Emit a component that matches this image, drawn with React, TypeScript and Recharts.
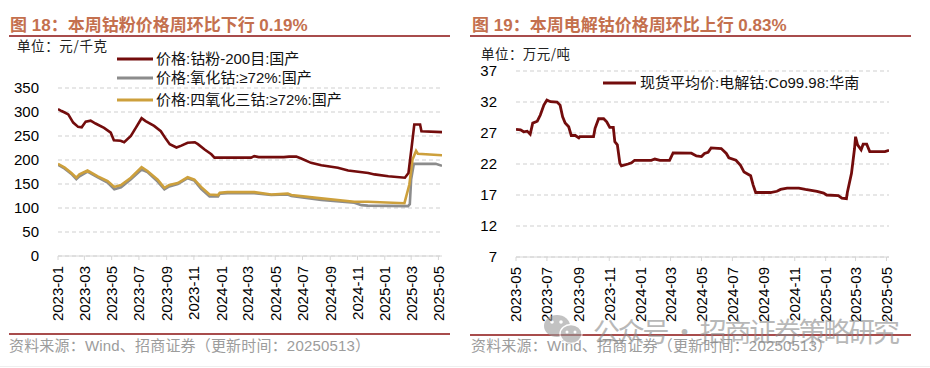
import React from 'react';
import { LineChart, Line, XAxis, YAxis, CartesianGrid } from 'recharts';

const FONT = "'Liberation Sans', Arial, 'Noto Sans CJK SC', sans-serif";
const CJK = "'Noto Sans CJK SC', 'Liberation Sans', sans-serif";

// ---------- Left chart: cobalt powder / oxides (元/千克) ----------
const powderDates = [
  '2023-01-01', '2023-01-09', '2023-01-16', '2023-01-24', '2023-02-04', '2023-02-15', '2023-02-23',
  '2023-03-04', '2023-03-15', '2023-03-26', '2023-04-14', '2023-04-29', '2023-05-06', '2023-05-21',
  '2023-05-29', '2023-06-13', '2023-06-24', '2023-07-07', '2023-07-16', '2023-08-04', '2023-08-19',
  '2023-08-31', '2023-09-08', '2023-09-23', '2023-10-04', '2023-10-18', '2023-11-03', '2023-11-10',
  '2023-11-25', '2023-12-10', '2023-12-17', '2024-01-15', '2024-03-08', '2024-03-15', '2024-03-25',
  '2024-05-20', '2024-06-01', '2024-06-17', '2024-06-28', '2024-07-20', '2024-08-12', '2024-09-18',
  '2024-10-11', '2024-11-25', '2024-12-09', '2025-01-09', '2025-02-15', '2025-02-23', '2025-03-02',
  '2025-03-08', '2025-03-21', '2025-03-24', '2025-05-09',
];
const powderValues = [
  306, 302, 299, 295, 278, 269, 268,
  280, 282, 276, 267, 257, 241, 240,
  237, 250, 267, 287, 281, 271, 260,
  243, 233, 226, 230, 236, 237, 233,
  222, 212, 205, 205, 205, 208, 206,
  206, 207, 207, 203, 194, 189, 184,
  178, 173, 170, 166, 163, 173, 226,
  274, 274, 260, 258,
];

const oxideDates = [
  '2023-01-01', '2023-01-16', '2023-01-31', '2023-02-11', '2023-02-18', '2023-03-08', '2023-03-31',
  '2023-04-22', '2023-05-07', '2023-05-22', '2023-06-13', '2023-07-07', '2023-07-20', '2023-08-12',
  '2023-08-27', '2023-09-07', '2023-09-26', '2023-10-18', '2023-11-02', '2023-11-17', '2023-12-06',
  '2023-12-25', '2023-12-29', '2024-01-15', '2024-03-15', '2024-04-22', '2024-05-29', '2024-06-06',
  '2024-08-12', '2024-10-25', '2024-11-10', '2024-11-24', '2025-02-22', '2025-02-26', '2025-03-01',
  '2025-03-07', '2025-04-25', '2025-05-09',
];
const oxideValues = [
  190, 182, 171, 160, 166, 176, 164,
  153, 139, 143, 160, 180, 175, 155,
  139, 145, 150, 162, 157, 140, 124,
  124, 130, 131, 131, 127, 128, 125,
  117, 111, 106, 105, 104, 108, 160,
  192, 192, 188,
];

const tetroxideDates = [
  '2023-01-01', '2023-01-16', '2023-01-31', '2023-02-11', '2023-02-18', '2023-03-08', '2023-03-31',
  '2023-04-22', '2023-05-07', '2023-05-22', '2023-06-13', '2023-07-07', '2023-07-20', '2023-08-12',
  '2023-08-27', '2023-09-07', '2023-09-26', '2023-10-18', '2023-11-02', '2023-11-17', '2023-12-06',
  '2023-12-25', '2023-12-29', '2024-01-15', '2024-03-15', '2024-04-22', '2024-05-29', '2024-06-06',
  '2024-08-12', '2024-10-25', '2024-11-24', '2025-02-14', '2025-02-25', '2025-03-04', '2025-03-12',
  '2025-03-16', '2025-05-09',
];
const tetroxideValues = [
  192, 184, 173, 163, 170, 178, 166,
  156, 144, 148, 163, 185, 177, 159,
  142, 148, 152, 164, 159, 144, 128,
  127, 132, 133, 133, 128, 130, 127,
  120, 113, 113, 110, 149, 201, 219,
  213, 210,
];

const leftTickLabels = [
  '2023-01', '2023-03', '2023-05', '2023-07', '2023-09', '2023-11', '2024-01', '2024-03',
  '2024-05', '2024-07', '2024-09', '2024-11', '2025-01', '2025-03', '2025-05',
];
const leftYTicks = [0, 50, 100, 150, 200, 250, 300, 350];

// ---------- Right chart: electrolytic cobalt (万元/吨) ----------
const cobaltDates = [
  '2023-05-01', '2023-05-10', '2023-05-16', '2023-05-23', '2023-05-29', '2023-06-03', '2023-06-12',
  '2023-06-18', '2023-06-25', '2023-07-01', '2023-07-08', '2023-07-21', '2023-07-27', '2023-08-01',
  '2023-08-06', '2023-08-13', '2023-08-18', '2023-08-26', '2023-09-02', '2023-09-04', '2023-10-01',
  '2023-10-04', '2023-10-11', '2023-10-21', '2023-10-27', '2023-11-02', '2023-11-09', '2023-11-12',
  '2023-11-17', '2023-11-22', '2023-11-25', '2023-12-08', '2023-12-15', '2023-12-21', '2024-01-23',
  '2024-01-30', '2024-02-09', '2024-02-28', '2024-03-06', '2024-04-11', '2024-04-21', '2024-05-01',
  '2024-05-07', '2024-05-14', '2024-05-20', '2024-06-09', '2024-06-19', '2024-06-24', '2024-07-08',
  '2024-07-17', '2024-07-24', '2024-08-06', '2024-08-11', '2024-08-16', '2024-09-14', '2024-09-27',
  '2024-10-04', '2024-10-17', '2024-11-09', '2024-11-22', '2024-12-15', '2024-12-28', '2025-01-03',
  '2025-01-26', '2025-02-02', '2025-02-11', '2025-02-13', '2025-02-21', '2025-02-27', '2025-03-01',
  '2025-03-05', '2025-03-12', '2025-03-16', '2025-03-23', '2025-03-29', '2025-04-28', '2025-05-06',
];
const cobaltValues = [
  27.6, 27.5, 27.2, 27.3, 26.8, 28.6, 28.9,
  29.9, 31.5, 32.3, 32.05, 32.0, 31.5, 29.6,
  28.6, 28.0, 26.6, 26.6, 26.2, 26.4, 26.4,
  27.75, 29.3, 29.3, 28.8, 27.9, 27.9, 25.6,
  25.1, 22.1, 21.7, 22.0, 22.2, 22.6, 22.6,
  22.8, 22.6, 22.6, 23.8, 23.75, 23.3, 23.2,
  23.7, 23.9, 24.6, 24.5, 23.7, 23.0, 22.6,
  21.8, 20.7, 20.1, 18.6, 17.4, 17.4, 17.6,
  17.9, 18.1, 18.1, 17.9, 17.6, 17.3, 17.0,
  16.9, 16.5, 16.4, 17.5, 20.5, 24.5, 26.4,
  25.1, 24.3, 25.2, 25.2, 24.0, 24.0, 24.2,
];
const rightTickLabels = [
  '2023-05', '2023-07', '2023-09', '2023-11', '2024-01', '2024-03', '2024-05',
  '2024-07', '2024-09', '2024-11', '2025-01', '2025-03', '2025-05',
];
const rightYTicks = [7, 12, 17, 22, 27, 32, 37];

// ---------- helpers ----------
const toTs = (s: string) => Date.UTC(+s.slice(0, 4), +s.slice(5, 7) - 1, s.length > 7 ? +s.slice(8, 10) : 1);
const build = (dates: string[], values: number[]) => dates.map((d, i) => ({ t: toTs(d), v: values[i] }));
const fmtMonth = (ts: number) => {
  const d = new Date(ts);
  const m = d.getUTCMonth() + 1;
  return `${d.getUTCFullYear()}-${m < 10 ? '0' + m : m}`;
};

const powderData = build(powderDates, powderValues);
const oxideData = build(oxideDates, oxideValues);
const tetroxideData = build(tetroxideDates, tetroxideValues);
const cobaltData = build(cobaltDates, cobaltValues);

const RED = '#730C0C';
const GRAY = '#8C8C8C';
const GOLD = '#CDA03C';
const GRID = '#CFCFCF';
const AXIS = '#D6D6D6';

const RotTick = (props: any) => {
  const { x, y, payload } = props;
  return (
    <text
      x={x}
      y={y}
      transform={`rotate(-90 ${x} ${y})`}
      textAnchor="end"
      dy="0.36em"
      fontSize={15}
      fill="#000"
      fontFamily={FONT}
    >
      {fmtMonth(payload.value)}
    </text>
  );
};

const yTickStyle = { fontSize: 15, fill: '#000', fontFamily: FONT };

const LeftChart = () => (
  <LineChart width={465} height={368} margin={{ top: 88, right: 23, bottom: 42, left: 13 }}>
    <CartesianGrid vertical={false} stroke={GRID} strokeDasharray="4 3" />
    <XAxis
      dataKey="t"
      type="number"
      domain={[toTs('2023-01-01'), toTs('2025-05-09')]}
      ticks={leftTickLabels.map(toTs)}
      interval={0}
      height={70}
      tick={<RotTick />}
      tickSize={4}
      tickMargin={6}
      stroke={AXIS}
      allowDataOverflow
    />
    <YAxis
      type="number"
      domain={[0, 350]}
      ticks={leftYTicks}
      interval={0}
      width={45}
      axisLine={false}
      tickLine={false}
      tickSize={6}
      tickMargin={13}
      tick={yTickStyle}
    />
    <Line data={oxideData} dataKey="v" type="linear" stroke={GRAY} strokeWidth={2.6} dot={false} isAnimationActive={false} />
    <Line data={tetroxideData} dataKey="v" type="linear" stroke={GOLD} strokeWidth={2.6} dot={false} isAnimationActive={false} />
    <Line data={powderData} dataKey="v" type="linear" stroke={RED} strokeWidth={2.6} dot={false} isAnimationActive={false} />
  </LineChart>
);

const RightChart = () => (
  <LineChart width={465} height={368} margin={{ top: 71, right: 41, bottom: 41, left: 6 }}>
    <CartesianGrid vertical={false} stroke={GRID} strokeDasharray="4 3" />
    <XAxis
      dataKey="t"
      type="number"
      domain={[toTs('2023-05-01'), toTs('2025-05-06')]}
      ticks={rightTickLabels.map(toTs)}
      interval={0}
      height={70}
      tick={<RotTick />}
      tickSize={4}
      tickMargin={6}
      stroke={AXIS}
      allowDataOverflow
    />
    <YAxis
      type="number"
      domain={[7, 37]}
      ticks={rightYTicks}
      interval={0}
      width={45}
      axisLine={false}
      tickLine={false}
      tickSize={6}
      tickMargin={13}
      tick={yTickStyle}
    />
    <Line data={cobaltData} dataKey="v" type="linear" stroke={RED} strokeWidth={2.8} dot={false} isAnimationActive={false} />
  </LineChart>
);

const leftLegend = [
  { name: '价格:钴粉-200目:国产', color: RED, y: 59 },
  { name: '价格:氧化钴:≥72%:国产', color: GRAY, y: 78 },
  { name: '价格:四氧化三钴:≥72%:国产', color: GOLD, y: 100 },
];

const Overlay = () => (
  <svg width={930} height={368} style={{ position: 'absolute', left: 0, top: 0, pointerEvents: 'none' }}>
    {/* titles */}
    <text x={10} y={31} fontSize={17} fontWeight="bold" fill="#C4704E" fontFamily={FONT}>
      图 18：本周钴粉价格周环比下行 0.19%
    </text>
    <text x={472} y={31} fontSize={17} fontWeight="bold" fill="#C4704E" fontFamily={FONT}>
      图 19：本周电解钴价格周环比上行 0.83%
    </text>
    <line x1={9} x2={450} y1={36} y2={36} stroke="#8B1010" strokeWidth={1.6} />
    <line x1={470} x2={911} y1={36} y2={36} stroke="#8B1010" strokeWidth={1.6} />
    {/* units */}
    <text x={17} y={51} fontSize={13.5} fill="#222" fontFamily={CJK} textLength={90} lengthAdjust="spacing">单位：元/千克</text>
    <text x={481} y={59} fontSize={13.5} fill="#222" fontFamily={CJK} textLength={89} lengthAdjust="spacing">单位：万元/吨</text>
    {/* legends */}
    {leftLegend.map((l) => (
      <g key={l.name}>
        <line x1={117} x2={153} y1={l.y} y2={l.y} stroke={l.color} strokeWidth={3} />
        <text x={156} y={l.y} dy="0.36em" fontSize={15} fill="#111" fontFamily={FONT}>{l.name}</text>
      </g>
    ))}
    <line x1={603} x2={636} y1={83} y2={83} stroke={RED} strokeWidth={3} />
    <text x={640} y={83} dy="0.36em" fontSize={15} fill="#111" fontFamily={FONT}>现货平均价:电解钴:Co99.98:华南</text>
    {/* footers */}
    <line x1={9} x2={450} y1={334} y2={334} stroke="#8B1010" strokeWidth={1.6} />
    <line x1={470} x2={911} y1={335} y2={335} stroke="#8B1010" strokeWidth={1.6} />
    <text x={9} y={351} fontSize={15} fill="#9C9C9C" fontFamily={FONT} textLength={361} lengthAdjust="spacing">资料来源：Wind、招商证券（更新时间：20250513）</text>
    <text x={471} y={351} fontSize={15} fill="#9C9C9C" fontFamily={FONT} textLength={361} lengthAdjust="spacing">资料来源：Wind、招商证券（更新时间：20250513）</text>
    <line x1={0} x2={930} y1={366.5} y2={366.5} stroke="#EFEFEF" strokeWidth={1} />
    {/* watermark */}
    <g opacity={0.6}>
      <ellipse cx={557} cy={326} rx={13} ry={11} fill="#9A9A9A" />
      <ellipse cx={571} cy={334} rx={11} ry={9.5} fill="#9A9A9A" stroke="#fff" strokeWidth={1.5} />
      <circle cx={552} cy={322} r={1.8} fill="#fff" />
      <circle cx={561} cy={322} r={1.8} fill="#fff" />
      <circle cx={567} cy={332} r={1.5} fill="#fff" />
      <circle cx={575} cy={332} r={1.5} fill="#fff" />
      <text x={593} y={342} fontSize={27} fill="#8A8A8A" fontFamily={CJK} textLength={307} lengthAdjust="spacing">
        公众号 · 招商证券策略研究
      </text>
    </g>
  </svg>
);

export default function App() {
  return (
    <div style={{ position: 'fixed', left: 0, top: 0, width: 930, height: 368, background: '#fff', overflow: 'hidden' }}>
      <div style={{ position: 'absolute', left: 0, top: 0 }}>
        <LeftChart />
      </div>
      <div style={{ position: 'absolute', left: 465, top: 0 }}>
        <RightChart />
      </div>
      <Overlay />
    </div>
  );
}
